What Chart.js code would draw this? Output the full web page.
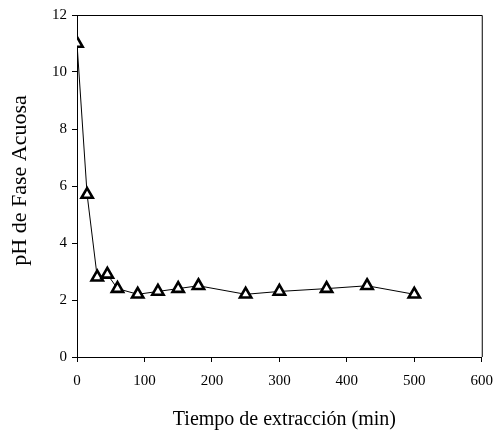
<!DOCTYPE html>
<html>
<head>
<meta charset="utf-8">
<script src="https://cdn.jsdelivr.net/npm/chart.js@4.4.0/dist/chart.umd.min.js"></script>
<style>
  html, body { margin: 0; padding: 0; background: #fff; }
  #wrap { width: 503px; height: 445px; }
</style>
</head>
<body>
<div id="wrap"><canvas id="c" width="503" height="445"></canvas></div>
<script>
const timeMin = [0, 15, 30, 45, 60, 90, 120, 150, 180, 250, 300, 370, 430, 500];
const phValues = [11.0, 5.7, 2.8, 2.9, 2.4, 2.2, 2.3, 2.4, 2.5, 2.2, 2.3, 2.4, 2.5, 2.2];
const xTicks = [0, 100, 200, 300, 400, 500, 600];
const yTicks = [0, 2, 4, 6, 8, 10, 12];
const xTitle = 'Tiempo de extracción (min)';
const yTitle = 'pH de Fase Acuosa';

const FONT = '"Liberation Serif", "Times New Roman", serif';

const boxPlugin = {
  id: 'box',
  afterDraw(chart) {
    const a = chart.chartArea;
    const ctx = chart.ctx;
    ctx.save();
    ctx.strokeStyle = '#000';
    ctx.lineWidth = 1;
    ctx.beginPath();
    ctx.moveTo(a.left, a.top + 0.5);
    ctx.lineTo(a.right + 0.5, a.top + 0.5);
    ctx.lineTo(a.right + 0.5, a.bottom);
    ctx.stroke();
    ctx.restore();
  }
};

new Chart(document.getElementById('c'), {
  type: 'line',
  data: {
    datasets: [{
      data: timeMin.map((t, i) => ({ x: t, y: phValues[i] })),
      borderColor: '#000',
      borderWidth: 1,
      pointStyle: 'triangle',
      pointRadius: 6.5,
      pointBorderWidth: 2.6,
      pointBackgroundColor: '#fff',
      pointBorderColor: '#000',
      tension: 0,
      fill: false
    }]
  },
  options: {
    responsive: false,
    animation: false,
    events: [],
    layout: { padding: { top: 15, right: 16, left: 0, bottom: 0 } },
    plugins: { legend: { display: false }, tooltip: { enabled: false } },
    scales: {
      x: {
        type: 'linear',
        min: 0, max: 600,
        afterBuildTicks(s) { s.ticks = xTicks.map(v => ({ value: v })); },
        afterFit(s) { s.height = 88; },
        grid: { display: true, drawOnChartArea: false, drawTicks: true, tickLength: 5, color: '#000', lineWidth: 1 },
        border: { display: true, color: '#000', width: 1 },
        ticks: { color: '#000', font: { family: FONT, size: 15 }, padding: 10, maxRotation: 0 },
        title: { display: true, text: '  ' + xTitle, color: '#000', font: { family: FONT, size: 20 }, padding: { top: 0, bottom: 13 } }
      },
      y: {
        type: 'linear',
        min: 0, max: 12,
        afterBuildTicks(s) { s.ticks = yTicks.map(v => ({ value: v })); },
        afterFit(s) { s.width = 77; },
        grid: { display: true, drawOnChartArea: false, drawTicks: true, tickLength: 5, color: '#000', lineWidth: 1 },
        border: { display: true, color: '#000', width: 1 },
        ticks: { color: '#000', font: { family: FONT, size: 15 }, padding: 5 },
        title: { display: true, text: '  ' + yTitle, color: '#000', font: { family: FONT, size: 22 }, padding: { top: 7, bottom: 0 } }
      }
    }
  },
  plugins: [boxPlugin]
});
</script>
</body>
</html>
